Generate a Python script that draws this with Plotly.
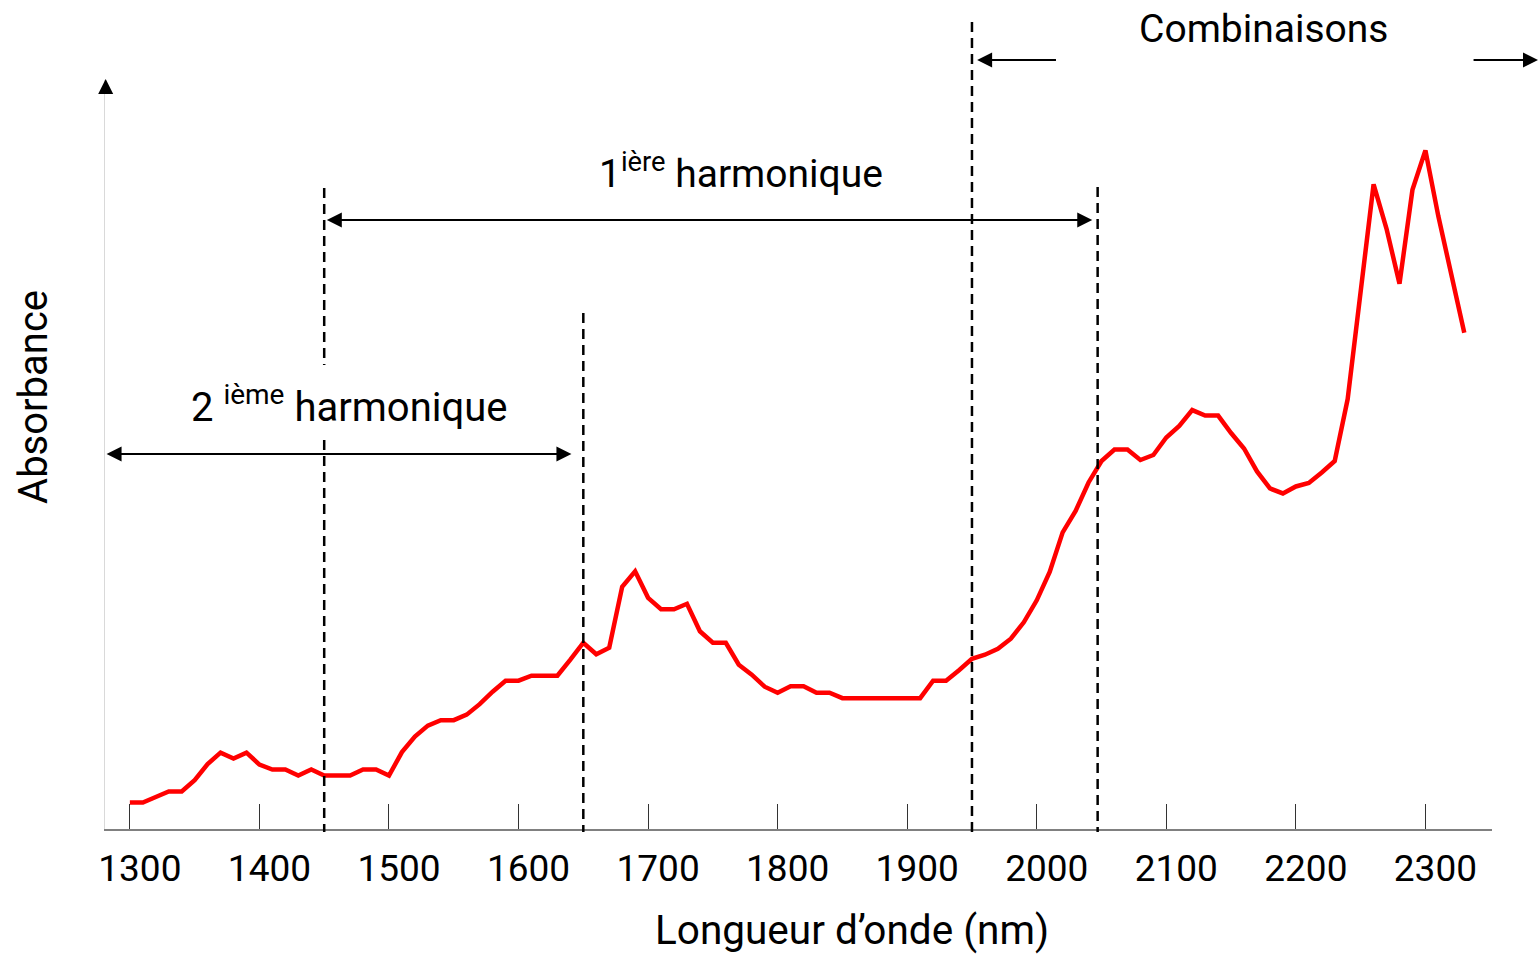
import plotly.graph_objects as go

# ---------------- data ----------------
wavelength_nm = [
    1300, 1310, 1320, 1330, 1340, 1350, 1360, 1370, 1380, 1390,
    1400, 1410, 1420, 1430, 1440, 1450, 1460, 1470, 1480, 1490,
    1500, 1510, 1520, 1530, 1540, 1550, 1560, 1570, 1580, 1590,
    1600, 1610, 1620, 1630, 1640, 1650, 1660, 1670, 1680, 1690,
    1700, 1710, 1720, 1730, 1740, 1750, 1760, 1770, 1780, 1790,
    1800, 1810, 1820, 1830, 1840, 1850, 1860, 1870, 1880, 1890,
    1900, 1910, 1920, 1930, 1940, 1950, 1960, 1970, 1980, 1990,
    2000, 2010, 2020, 2030, 2040, 2050, 2060, 2070, 2080, 2090,
    2100, 2110, 2120, 2130, 2140, 2150, 2160, 2170, 2180, 2190,
    2200, 2210, 2220, 2230, 2240, 2250, 2260, 2270, 2280, 2290,
    2300, 2310, 2320, 2330,
]
absorbance = [
    0.053, 0.053, 0.064, 0.075, 0.075, 0.098, 0.130, 0.153, 0.141, 0.153,
    0.129, 0.119, 0.119, 0.107, 0.119, 0.107, 0.107, 0.107, 0.119, 0.119,
    0.107, 0.154, 0.185, 0.207, 0.218, 0.218, 0.229, 0.250, 0.275, 0.297,
    0.297, 0.307, 0.307, 0.307, 0.339, 0.373, 0.350, 0.363, 0.485, 0.516,
    0.463, 0.440, 0.440, 0.451, 0.396, 0.373, 0.373, 0.329, 0.309, 0.285,
    0.273, 0.286, 0.286, 0.273, 0.273, 0.262, 0.262, 0.262, 0.262, 0.262,
    0.262, 0.262, 0.297, 0.297, 0.318, 0.341, 0.349, 0.361, 0.381, 0.414,
    0.458, 0.515, 0.594, 0.637, 0.694, 0.737, 0.760, 0.760, 0.739, 0.749,
    0.784, 0.807, 0.839, 0.828, 0.828, 0.793, 0.762, 0.716, 0.682, 0.672,
    0.686, 0.693, 0.714, 0.737, 0.861, 1.084, 1.291, 1.202, 1.092, 1.280,
    1.359, 1.227, 1.112, 0.994,
]
tick_values = [1300, 1400, 1500, 1600, 1700, 1800, 1900, 2000, 2100, 2200, 2300]
tick_labels = ["1300", "1400", "1500", "1600", "1700", "1800", "1900",
               "2000", "2100", "2200", "2300"]

# region boundaries (nm)
bound_2nd_start, bound_2nd_end = 1450, 1650
bound_comb_start, bound_1st_end = 1950, 2047

x_title = "Longueur d’onde (nm)"
y_title = "Absorbance"
label_1st = "1<sup>ière</sup> harmonique"
label_2nd = "2 <sup>ième</sup> harmonique"
label_comb = "Combinaisons"

FONT = "Roboto"

fig = go.Figure()
fig.add_trace(go.Scatter(
    x=wavelength_nm, y=absorbance, mode="lines",
    line=dict(color="#ff0000", width=4.5), showlegend=False,
    hoverinfo="skip",
))

# ---------------- dashed region boundaries ----------------
dash_style = dict(color="black", width=2.5, dash="10px,6px")
dashed_segments = [
    (bound_2nd_start, 0.8558, 0.6195),
    (bound_2nd_start, 0.5194, -0.004),
    (bound_2nd_end, 0.6889, -0.004),
    (bound_comb_start, 1.0774, -0.004),
    (bound_1st_end, 0.8571, -0.004),
]
for xv, y0, y1 in dashed_segments:
    fig.add_shape(type="line", xref="x", yref="paper", x0=xv, x1=xv,
                  y0=y0, y1=y1, line=dash_style, layer="above")

annotations = []
arrow_common = dict(text="", showarrow=True, arrowcolor="black", arrowwidth=2,
                    arrowhead=2, arrowsize=1.5, startarrowhead=2,
                    startarrowsize=1.5, standoff=0, startstandoff=0)

# 1st harmonic double arrow
annotations.append(dict(xref="x", yref="paper", x=bound_2nd_start + 2, y=0.8131,
                        axref="x", ayref="pixel", ax=bound_1st_end - 3, ay=0,
                        arrowside="end+start", **arrow_common))
# 2nd harmonic double arrow
annotations.append(dict(xref="x", yref="paper", x=1282, y=0.5007,
                        axref="x", ayref="pixel", ax=bound_2nd_end - 8, ay=0,
                        arrowside="end+start", **arrow_common))
# combinations arrows
annotations.append(dict(xref="x", yref="paper", x=bound_comb_start + 4, y=1.0267,
                        axref="x", ayref="pixel", ax=2016, ay=0,
                        arrowside="end", **arrow_common))
annotations.append(dict(xref="paper", yref="paper", x=1.0433, y=1.0267,
                        axref="pixel", ayref="pixel", ax=-80, ay=0,
                        arrowside="end", **arrow_common))
# y axis arrow head
annotations.append(dict(xref="paper", yref="paper", x=0.0005, y=1.0013,
                        ax=0, ay=16, text="", showarrow=True, arrowcolor="black",
                        arrowwidth=1, arrowhead=2, arrowsize=3, standoff=0))

annotations.append(dict(xref="x", yref="paper", x=1772, y=0.8776, text=label_1st,
                        showarrow=False, font=dict(family=FONT, size=39, color="black"),
                        xanchor="center", yanchor="middle"))
annotations.append(dict(xref="x", yref="paper", x=1469, y=0.5661, text=label_2nd,
                        showarrow=False, font=dict(family=FONT, size=40, color="black"),
                        xanchor="center", yanchor="middle"))
annotations.append(dict(xref="x", yref="paper", x=2175, y=1.0676, text=label_comb,
                        showarrow=False, font=dict(family=FONT, size=39, color="black"),
                        xanchor="center", yanchor="middle"))
# axis titles
annotations.append(dict(xref="paper", yref="paper", x=0.5386, y=-0.1348, text=x_title,
                        showarrow=False, font=dict(family=FONT, size=40.5, color="black"),
                        xanchor="center", yanchor="middle"))
annotations.append(dict(xref="paper", yref="paper", x=-0.0516, y=0.5774, text=y_title,
                        showarrow=False, font=dict(family=FONT, size=40, color="black"),
                        textangle=-90, xanchor="center", yanchor="middle"))

fig.update_layout(
    width=1539, height=957,
    margin=dict(l=105, r=47, t=80, b=128, pad=0),
    paper_bgcolor="white", plot_bgcolor="white",
    font=dict(family=FONT, color="black"),
    annotations=annotations,
    showlegend=False,
    xaxis=dict(
        range=[1280.8, 2351.4], showgrid=False, zeroline=False,
        showline=True, linecolor="#808080", linewidth=2,
        ticks="inside", ticklen=25, tickwidth=1, tickcolor="#333333",
        tickvals=tick_values, ticktext=tick_labels,
        tickfont=dict(family=FONT, size=37, color="black"),
        ticklabelshift=10, ticklabelstandoff=6,
    ),
    yaxis=dict(
        range=[0, 1.5], showgrid=False, zeroline=False,
        showline=True, linecolor="#d9d9d9", linewidth=1,
        showticklabels=False, ticks="",
    ),
)

fig.write_html("out.html", config={"displayModeBar": False},
               post_script="document.body.style.margin='0';")
